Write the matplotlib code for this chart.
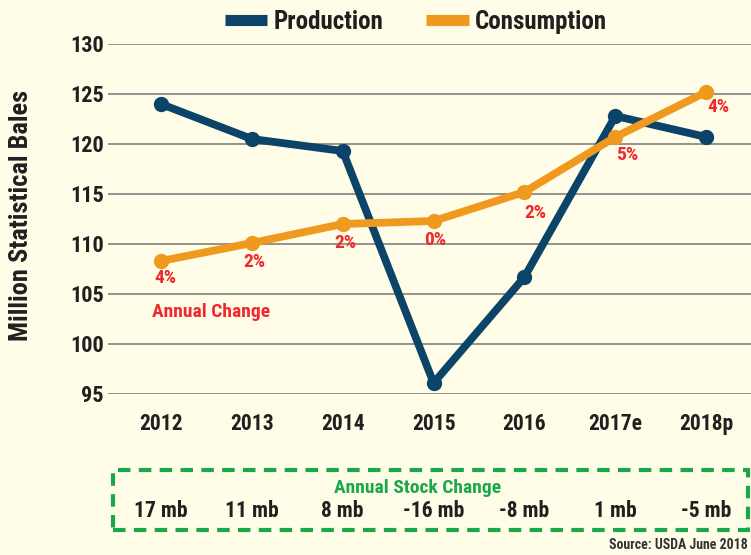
import matplotlib
matplotlib.use("Agg")
import matplotlib.pyplot as plt
import matplotlib.transforms as mtransforms
from matplotlib.patches import Rectangle
from matplotlib.lines import Line2D
from matplotlib import font_manager as fm

years = ["2012", "2013", "2014", "2015", "2016", "2017e", "2018p"]
production = [124.0, 120.5, 119.3, 96.1, 106.7, 122.8, 120.7]
consumption = [108.3, 110.1, 112.0, 112.3, 115.2, 120.7, 125.2]
cons_change = ["4%", "2%", "2%", "0%", "2%", "5%", "4%"]
stock_change = ["17 mb", "11 mb", "8 mb", "-16 mb", "-8 mb", "1 mb", "-5 mb"]
y_ticks = [95, 100, 105, 110, 115, 120, 125, 130]

# pick a condensed bold face if one is installed
names = {(f.name, f.stretch) for f in fm.fontManager.ttflist}
fam_names = {n for n, _ in names}
STRETCH = 'normal'
FONT = ["DejaVu Sans"]
for cand in ["Liberation Sans Narrow", "Roboto Condensed", "Open Sans Condensed", "Arial Narrow"]:
    if cand in fam_names:
        FONT = [cand, "DejaVu Sans"]
        break
else:
    if any(n == "DejaVu Sans" and s in ('condensed', 'semi-condensed', 600, 500) for n, s in names):
        STRETCH = 'condensed'
NARROW = FONT[0] != "DejaVu Sans" or STRETCH == 'condensed'

plt.rcParams['font.family'] = FONT
plt.rcParams['font.weight'] = 'bold'
plt.rcParams['font.stretch'] = STRETCH

BG = "#FFFDE8"
NAVY = "#0B4468"
ORANGE = "#F0991F"
RED = "#EE2A2F"
GREEN = "#1BA84B"
DARK = "#231F20"

k = 1.0 if NARROW else 0.85

W, H = 751, 555
fig = plt.figure(figsize=(W / 100, H / 100), dpi=100, facecolor=BG)
ax = fig.add_axes([108 / W, 1 - 394 / H, (W - 108) / W, (394 - 44) / H])
ax.set_facecolor(BG)

x = list(range(len(years)))
ax.set_xlim(-0.583, 6.493)
ax.set_ylim(95, 130)

ax.set_yticks(y_ticks)
ax.set_yticklabels([str(t) for t in y_ticks], fontsize=16 * k, color=DARK, fontweight='bold')
ax.tick_params(axis='y', length=0, pad=3)
ax.set_xticks(x)
ax.set_xticklabels(years, fontsize=15.5 * k, color=DARK, fontweight='bold')
ax.tick_params(axis='x', length=0, pad=14)
for s in ax.spines.values():
    s.set_visible(False)
ax.grid(axis='y', color="#8A8A86", linewidth=1.3)
ax.set_axisbelow(True)

ax.set_ylabel("Million Statistical Bales", fontsize=19 * k, color=DARK, fontweight='bold')
ax.yaxis.set_label_coords((33 - 108) / (W - 108), 0.51)

ax.plot(x, production, color=NAVY, lw=5.6, marker='o', ms=10, clip_on=False, zorder=3,
        solid_joinstyle='round')
ax.plot(x, consumption, color=ORANGE, lw=5.6, marker='o', ms=10, clip_on=False, zorder=4,
        solid_joinstyle='round')

offsets = [(4, -17), (3, -19), (3, -19), (2, -19), (11, -21), (12, -18), (12, -15)]
for xi, yi, lab, off in zip(x, consumption, cons_change, offsets):
    ax.annotate(lab, (xi, yi), xytext=off, textcoords='offset pixels', ha='center', va='center',
                fontsize=14 * k, color=RED, fontweight='bold')

fig.text(152 / W, 1 - 312 / H, "Annual Change", fontsize=14 * k, color=RED, fontweight='bold',
         ha='left', va='center')

# legend
leg_handles = [Line2D([], [], color=NAVY, lw=8, solid_capstyle='butt'),
               Line2D([], [], color=ORANGE, lw=8, solid_capstyle='butt')]
fig.legend(leg_handles, ["Production", "Consumption"], loc='center', bbox_to_anchor=(416 / W, 1 - 22 / H),
           ncol=2, frameon=False, prop={'size': 18 * k, 'weight': 'bold', 'family': FONT, 'stretch': STRETCH},
           handlelength=1.7, handletextpad=0.25, columnspacing=1.7, labelcolor=DARK)

# stock change box
box = Rectangle((113 / W, 1 - 530 / H), (748 - 113) / W, (530 - 470) / H, transform=fig.transFigure,
                fill=False, edgecolor=GREEN, lw=3, linestyle=(0, (3.0, 2.0)))
fig.add_artist(box)
fig.text(418 / W, 1 - 488 / H, "Annual Stock Change", fontsize=14 * k, color=GREEN, fontweight='bold',
         ha='center', va='center')
trans = mtransforms.blended_transform_factory(ax.transData, fig.transFigure)
for xi, lab in zip(x, stock_change):
    ax.text(xi, 1 - 511 / H, lab, transform=trans, fontsize=15.5 * k, color=DARK, fontweight='bold',
            ha='center', va='center', clip_on=False)

fig.text(748 / W, 1 - 545 / H, "Source: USDA June 2018", fontsize=10 * k, color="#333333",
         fontweight='bold', ha='right', va='center')

fig.savefig("out.png", dpi=100, facecolor=BG)
